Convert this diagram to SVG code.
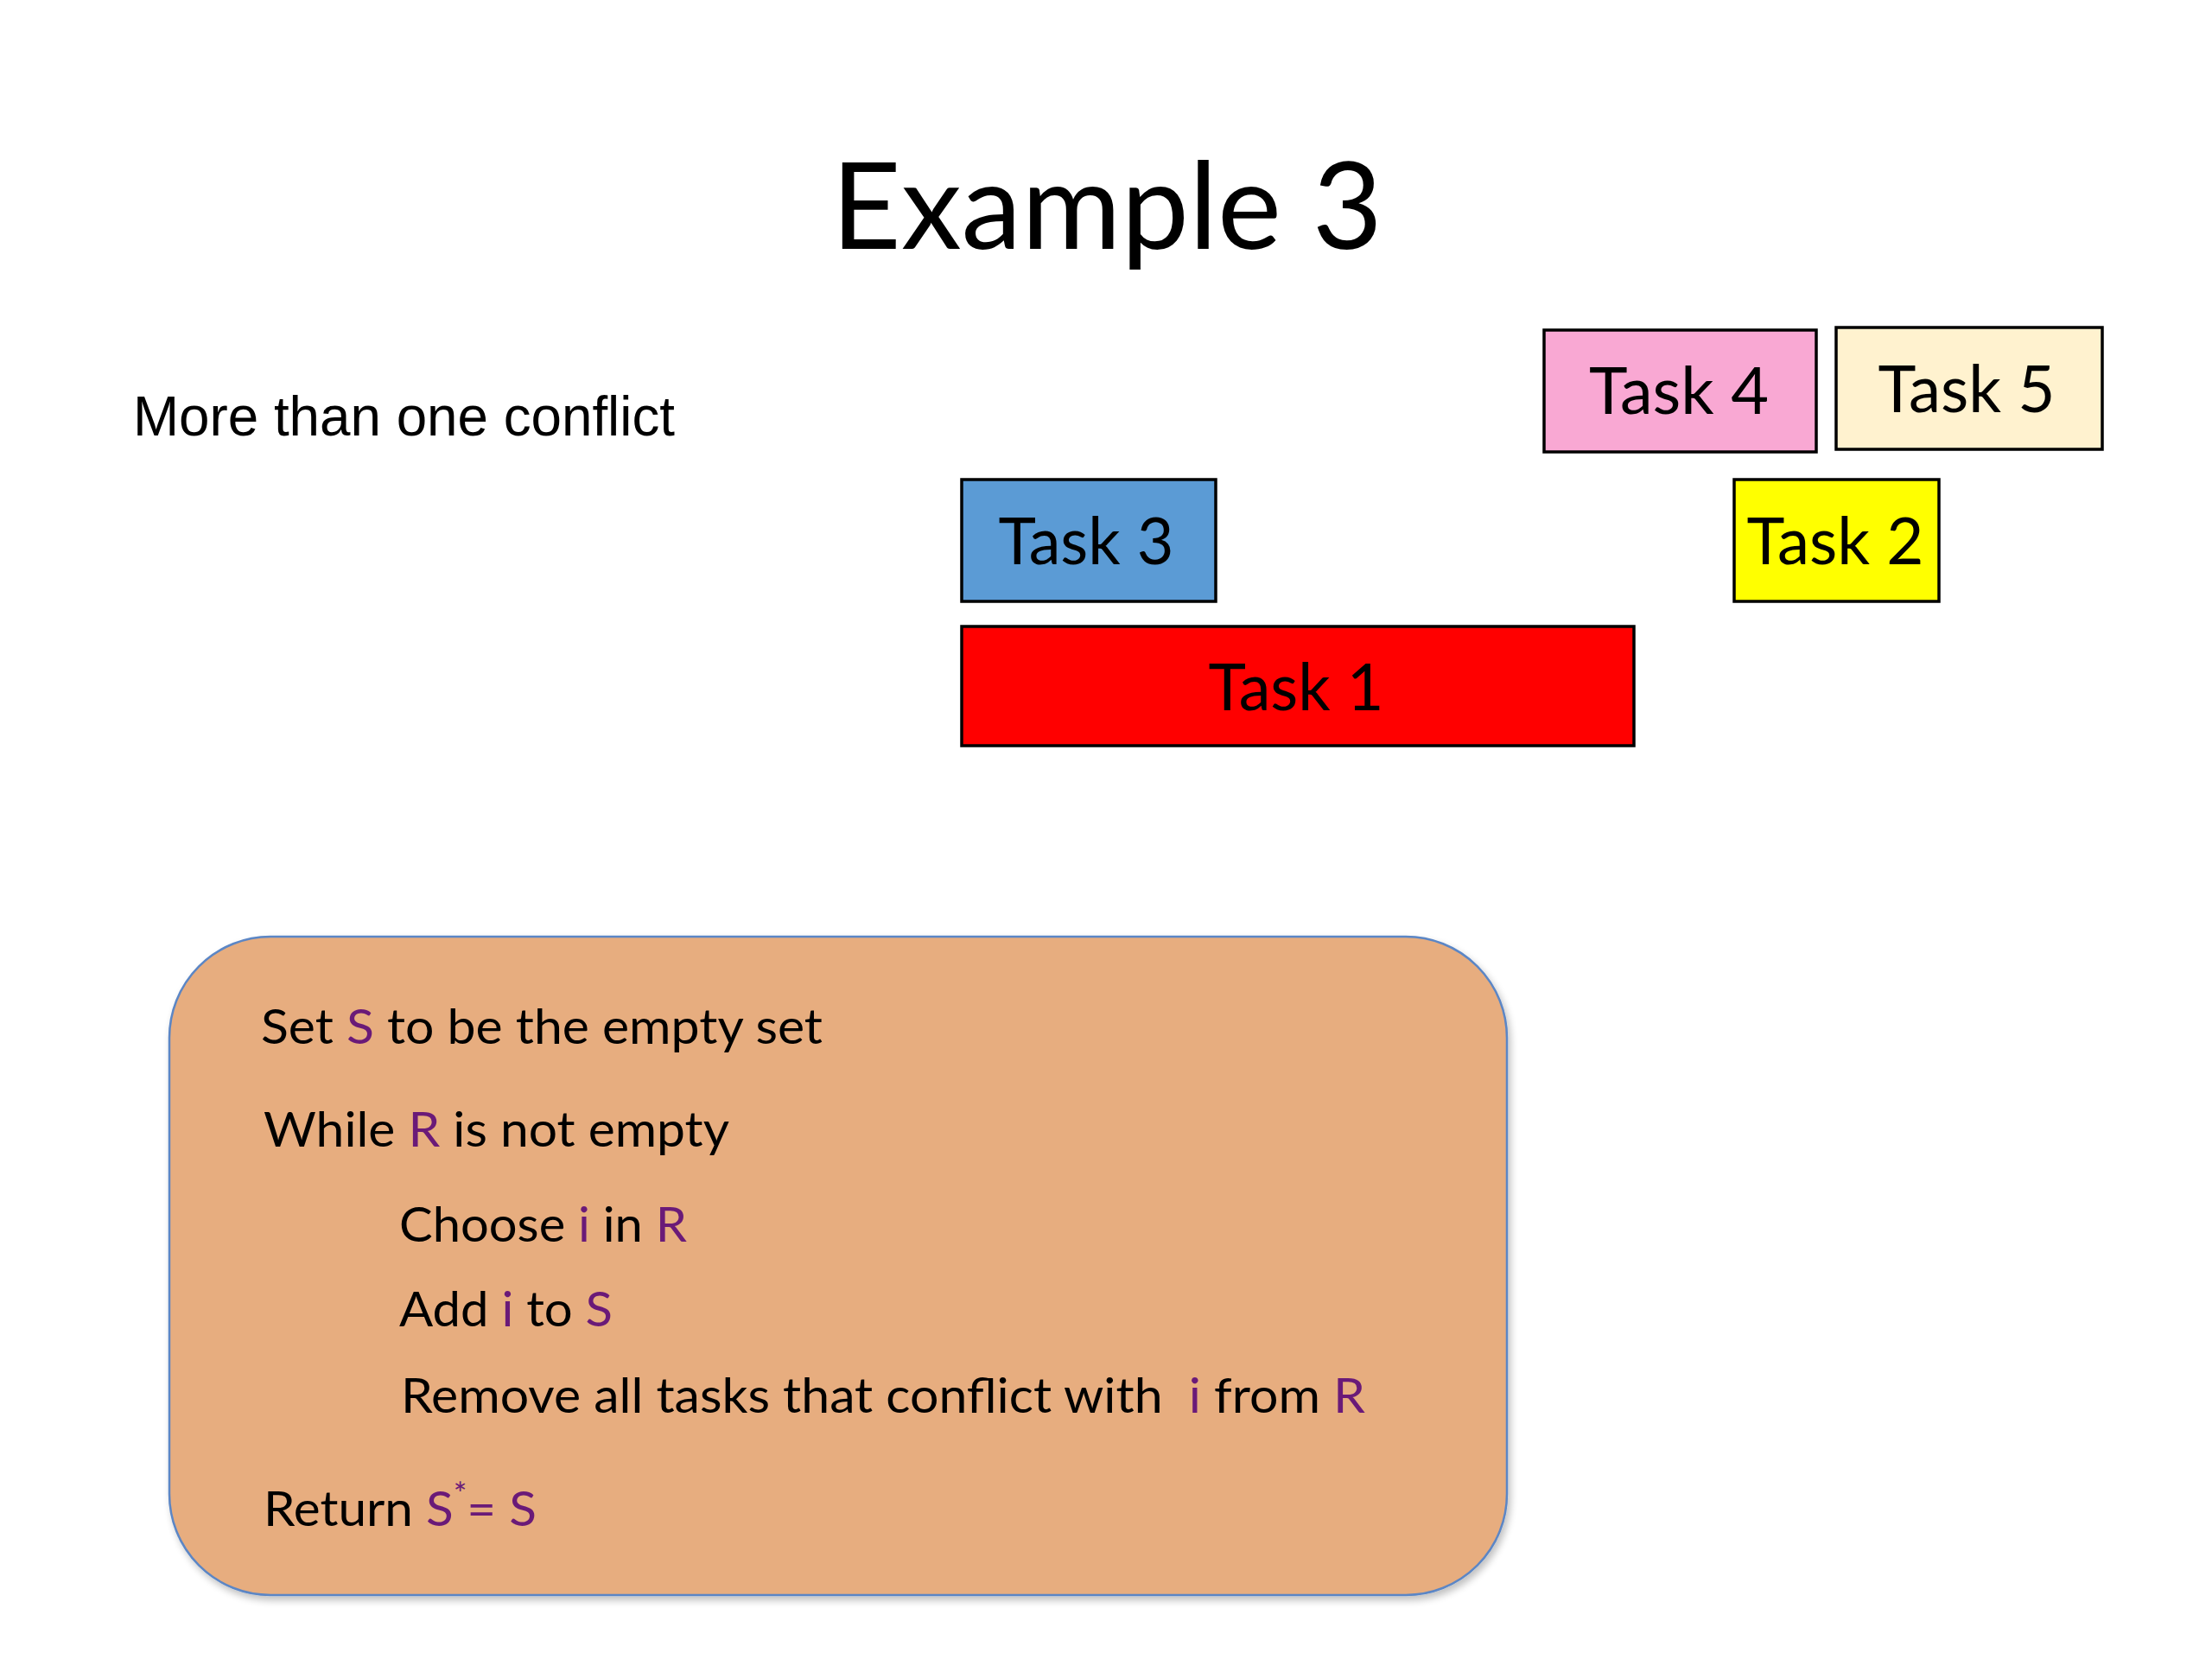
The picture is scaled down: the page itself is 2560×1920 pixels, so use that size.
<svg xmlns="http://www.w3.org/2000/svg" width="2560" height="1920" viewBox="0 0 2560 1920">
  <style>
    .cal { font-family: Lato, "Open Sans", "Noto Sans", sans-serif; }
    .task { font-family: Lato, "Open Sans", sans-serif; font-size: 76px; fill: #000; text-anchor: middle; }
    .box { stroke: #000; stroke-width: 3.5; }
    .code { font-family: Lato, "Open Sans", sans-serif; font-size: 57px; fill: #000; white-space: pre; }
    .pur { fill: #6A1A78; }
  </style>
  <defs>
    <filter id="shadow" x="-5%" y="-5%" width="110%" height="115%">
      <feGaussianBlur in="SourceAlpha" stdDeviation="4"/>
      <feOffset dx="3" dy="5" result="b"/>
      <feComponentTransfer><feFuncA type="linear" slope="0.25"/></feComponentTransfer>
      <feMerge><feMergeNode/><feMergeNode in="SourceGraphic"/></feMerge>
    </filter>
  </defs>
  <rect width="2560" height="1920" fill="#FFFFFF"/>

  <g id="title">
    <text class="cal" x="962" y="288" font-size="139" textLength="638" lengthAdjust="spacingAndGlyphs">Example 3</text>
  </g>

  <g id="subtitle">
    <text x="154" y="504" font-family="'Liberation Sans', Arial, sans-serif" font-size="64" textLength="627" lengthAdjust="spacingAndGlyphs">More than one conflict</text>
  </g>

  <g id="task4">
    <rect class="box" x="1787" y="382" width="315" height="141" fill="#F9A8D3"/>
    <text class="task" x="1943" y="479" textLength="208" lengthAdjust="spacingAndGlyphs">Task 4</text>
  </g>
  <g id="task5">
    <rect class="box" x="2125" y="379" width="308" height="141" fill="#FFF2CF"/>
    <text class="task" x="2276" y="477" textLength="205" lengthAdjust="spacingAndGlyphs">Task 5</text>
  </g>
  <g id="task3">
    <rect class="box" x="1113" y="555" width="294" height="141" fill="#5B9BD5"/>
    <text class="task" x="1257" y="653" textLength="203" lengthAdjust="spacingAndGlyphs">Task 3</text>
  </g>
  <g id="task2">
    <rect class="box" x="2007" y="555" width="237" height="141" fill="#FFFF00"/>
    <text class="task" x="2124" y="653" textLength="205" lengthAdjust="spacingAndGlyphs">Task 2</text>
  </g>
  <g id="task1">
    <rect class="box" x="1113" y="725" width="778" height="138" fill="#FF0000"/>
    <text class="task" x="1500" y="822" textLength="203" lengthAdjust="spacingAndGlyphs">Task 1</text>
  </g>

  <g id="algorithm">
    <rect x="196" y="1084" width="1548" height="762" rx="117" ry="117" fill="#E7AD7F" stroke="#5B86C5" stroke-width="2.5" filter="url(#shadow)"/>
    <text class="code" x="302" y="1208" textLength="650" lengthAdjust="spacingAndGlyphs">Set <tspan class="pur">S</tspan> to be the empty set</text>
    <text class="code" x="305" y="1327" textLength="539" lengthAdjust="spacingAndGlyphs">While <tspan class="pur">R</tspan> is not empty</text>
    <text class="code" x="462" y="1437" textLength="333" lengthAdjust="spacingAndGlyphs">Choose <tspan class="pur">i</tspan> in <tspan class="pur">R</tspan></text>
    <text class="code" x="462" y="1535" textLength="247" lengthAdjust="spacingAndGlyphs">Add <tspan class="pur">i</tspan> to <tspan class="pur">S</tspan></text>
    <text class="code" x="464" y="1635" textLength="1116" lengthAdjust="spacingAndGlyphs">Remove all tasks that conflict with  <tspan class="pur">i</tspan> from <tspan class="pur">R</tspan></text>
    <text class="code" x="305" y="1766" textLength="316" lengthAdjust="spacingAndGlyphs">Return <tspan class="pur">S</tspan><tspan class="pur" font-size="36" dy="-24">*</tspan><tspan class="pur" dy="24">= S</tspan></text>
  </g>
</svg>
